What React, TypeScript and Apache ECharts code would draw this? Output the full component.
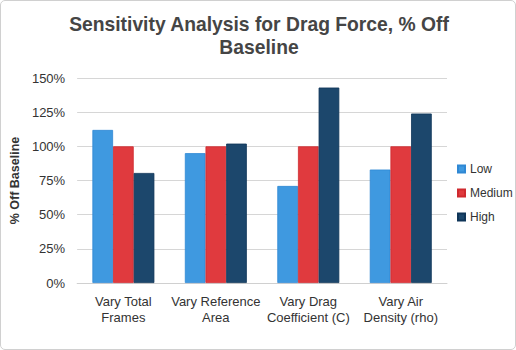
import React, { useEffect, useRef } from "react";
import * as echarts from "echarts";

const categories = [
  "Vary Total\nFrames",
  "Vary Reference\nArea",
  "Vary Drag\nCoefficient (C)",
  "Vary Air\nDensity (rho)",
];
const lowValues = [112, 95, 71, 83];
const mediumValues = [100, 100, 100, 100];
const highValues = [80.5, 102, 143, 124];
const seriesNames = ["Low", "Medium", "High"];
const colors = ["#3f99e0", "#e03a3e", "#1c476c"];
const borderColors = ["#2f88d4", "#cf2a2f", "#0f3558"];

export default function App() {
  const ref = useRef<HTMLDivElement>(null);
  useEffect(() => {
    if (!ref.current) return;
    const chart = echarts.init(ref.current, undefined, { renderer: "svg" });
    const font = "'Liberation Sans', Arial, Helvetica, sans-serif";
    const data = [lowValues, mediumValues, highValues];
    chart.setOption({
      animation: false,
      textStyle: { fontFamily: font },
      title: {
        text: "Sensitivity Analysis for Drag Force, % Off\nBaseline",
        left: 254,
        textAlign: "center",
        top: 8,
        textStyle: {
          fontFamily: font,
          fontSize: 19.3,
          fontWeight: "bold",
          color: "#454545",
          lineHeight: 23,
        },
      },
      legend: {
        orient: "vertical",
        left: 452,
        top: 158,
        itemWidth: 7,
        itemHeight: 7,
        itemGap: 12,
        icon: "rect",
        data: seriesNames,
        textStyle: { fontFamily: font, fontSize: 12, color: "#333" },
      },
      grid: { left: 76, right: 69, top: 78, bottom: 67, containLabel: false },
      xAxis: {
        type: "category",
        data: categories,
        axisTick: { show: false },
        axisLine: { lineStyle: { color: "#d0d0d0", width: 1 } },
        axisLabel: {
          fontFamily: font,
          fontSize: 13,
          color: "#333",
          lineHeight: 16,
          margin: 10,
          interval: 0,
        },
      },
      yAxis: {
        type: "value",
        min: 0,
        max: 150,
        interval: 25,
        name: "% Off Baseline",
        nameLocation: "middle",
        nameGap: 42,
        nameRotate: 90,
        nameTextStyle: { fontFamily: font, fontSize: 12.5, fontWeight: "bold", color: "#333" },
        axisLine: { show: false },
        axisTick: { show: false },
        splitLine: { lineStyle: { color: "#d6d6d6", width: 1 } },
        axisLabel: {
          fontFamily: font,
          fontSize: 13,
          color: "#333",
          margin: 12,
          formatter: "{value}%",
        },
      },
      series: seriesNames.map((name, i) => ({
        name,
        type: "bar",
        data: data[i],
        barGap: "0%",
        barCategoryGap: "33%",
        itemStyle: { color: colors[i], borderColor: borderColors[i], borderWidth: 0.8 },
      })),
    });
    return () => chart.dispose();
  }, []);
  return (
    <div
      style={{
        position: "fixed",
        left: 0,
        top: 0,
        width: 516,
        height: 350,
        boxSizing: "border-box",
        border: "1px solid #d0d0d0",
        borderRadius: 5,
        background: "#fff",
        overflow: "hidden",
      }}
    >
      <div ref={ref} style={{ position: "absolute", left: -1, top: -1, width: 516, height: 350 }} />
    </div>
  );
}
